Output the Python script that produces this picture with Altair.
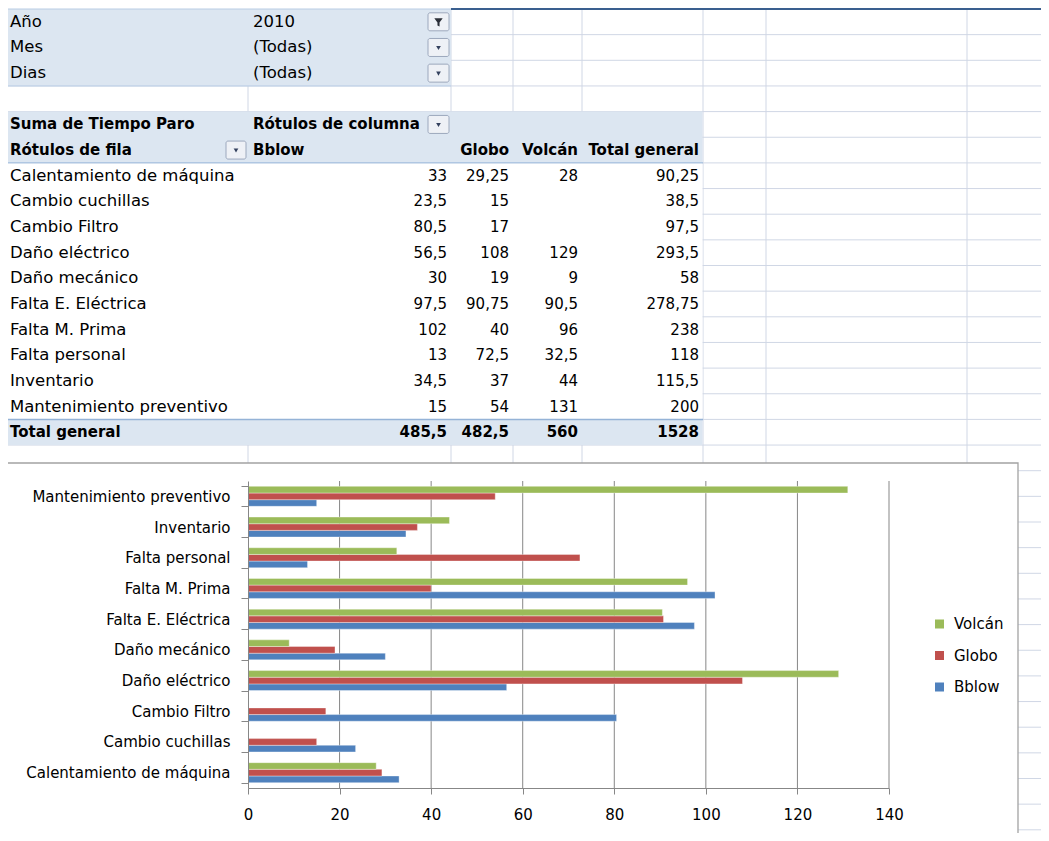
import altair as alt
import pandas as pd

# ---------------- data ----------------
CATEGORIES = ["Calentamiento de máquina", "Cambio cuchillas", "Cambio Filtro", "Daño eléctrico",
              "Daño mecánico", "Falta E. Eléctrica", "Falta M. Prima", "Falta personal",
              "Inventario", "Mantenimiento preventivo"]
BBLOW = [33, 23.5, 80.5, 56.5, 30, 97.5, 102, 13, 34.5, 15]
GLOBO = [29.25, 15, 17, 108, 19, 90.75, 40, 72.5, 37, 54]
VOLCAN = [28, None, None, 129, 9, 90.5, 96, 32.5, 44, 131]
SERIES = ["Bblow", "Globo", "Volcán"]
LEGEND_ORDER = ["Volcán", "Globo", "Bblow"]
SERIES_COLORS = ["#9bbb59", "#c0504d", "#4f81bd"]
FILTER_FIELDS = ["Año", "Mes", "Dias"]
FILTER_VALUES = ["2010", "(Todas)", "(Todas)"]
X_TICKS = [0, 20, 40, 60, 80, 100, 120, 140]

# ---------------- layout (page pixels) ----------------
FONT = "DejaVu Sans"
PLOT_L, PLOT_R, PLOT_T, PLOT_B = 248, 889, 481, 788
PW, PH = PLOT_R - PLOT_L, PLOT_B - PLOT_T
ROW0, ROW_H = 9.0, 25.65
COL_LINES = [248, 451, 513, 582, 703, 766, 967]
LEFT_A, LEFT_B = 10, 253
NUM_RIGHT = [447, 509, 578, 699]
GRID_C = "#d0d7e5"
BAND_C = "#dce6f1"


def row_top(k):
    return ROW0 + ROW_H * k


def row_mid(k):
    return ROW0 + ROW_H * (k + 0.5)


def fmt(v):
    if v is None:
        return ""
    return f"{v:g}".replace(".", ",")


def PX():
    return alt.Scale(domain=[PLOT_L, PLOT_R], range=[0, PW], zero=False, nice=False)


def PY():
    return alt.Scale(domain=[PLOT_T, PLOT_B], range=[0, PH], zero=False, nice=False)


def X(f):
    return alt.X(f, type="quantitative", scale=PX(), axis=None)


def Y(f):
    return alt.Y(f, type="quantitative", scale=PY(), axis=None)


# ---------------- spreadsheet decoration ----------------
grid = [dict(x=x, x2=x, y=row_top(0), y2=845) for x in COL_LINES]
grid += [dict(x=0, x2=1045, y=row_top(k), y2=row_top(k)) for k in range(1, 33)]
grid_layer = alt.Chart(pd.DataFrame(grid)).mark_rule(color=GRID_C, strokeWidth=1).encode(
    x=X("x"), x2="x2", y=Y("y"), y2="y2")

bands = [
    dict(x=0, x2=451, y=row_top(0), y2=row_top(3), f=BAND_C),
    dict(x=0, x2=702.5, y=row_top(4), y2=row_top(6), f=BAND_C),
    dict(x=0, x2=702.5, y=row_top(6), y2=row_top(16), f="#ffffff"),
    dict(x=0, x2=702.5, y=row_top(16), y2=row_top(17), f=BAND_C),
]
band_layer = alt.Chart(pd.DataFrame(bands)).mark_rect().encode(
    x=X("x"), x2="x2", y=Y("y"), y2="y2", fill=alt.Fill("f:N", scale=None))

borders = [
    dict(x=451, x2=1045, y=8.8, y2=8.8, c="#3a5f8f", w=2.5),
    dict(x=0, x2=451, y=9, y2=9, c="#b8cce4", w=1),
    dict(x=0, x2=451, y=row_top(3), y2=row_top(3), c="#b8cce4", w=1),
    dict(x=0, x2=703, y=row_top(6), y2=row_top(6), c="#95b3d7", w=1),
    dict(x=0, x2=703, y=row_top(16), y2=row_top(16), c="#95b3d7", w=1.5),
]
border_layer = alt.Chart(pd.DataFrame(borders)).mark_rule().encode(
    x=X("x"), x2="x2", y=Y("y"), y2="y2",
    stroke=alt.Stroke("c:N", scale=None), strokeWidth=alt.StrokeWidth("w:Q", scale=None))

btn = [dict(x=428, x2=449, k=k, kind="filter" if k == 0 else "drop") for k in (0, 1, 2, 4)]
btn += [dict(x=226, x2=246, k=5, kind="drop")]
for b in btn:
    b["y"] = row_mid(b["k"]) - 9
    b["y2"] = row_mid(b["k"]) + 9
    b["cx"] = (b["x"] + b["x2"]) / 2
    b["cy"] = row_mid(b["k"]) + 0.5
btn_df = pd.DataFrame(btn)
btn_layer = alt.Chart(btn_df).mark_rect(fill="#eef1f6", stroke="#9ca8bd", strokeWidth=1,
                                        cornerRadius=2).encode(x=X("x"), x2="x2", y=Y("y"), y2="y2")
tri_layer = alt.Chart(btn_df[btn_df.kind == "drop"]).mark_point(
    shape="triangle-down", filled=True, color="#33415e", size=22, opacity=1).encode(
    x=X("cx"), y=Y("cy"))
funnel_layer = alt.Chart(btn_df[btn_df.kind == "filter"]).mark_point(
    shape="M -1 -1 L 1 -1 L 0.25 0.05 L 0.25 1 L -0.25 0.75 L -0.25 0.05 Z",
    filled=True, color="#2b2f38", size=70, opacity=1).encode(
    x=alt.X("cx", type="quantitative", scale=PX(), axis=None), y=Y("cy"))

# ---------------- pivot table text ----------------
left_norm, left_bold, right_norm, right_bold = [], [], [], []
for i, (f, v) in enumerate(zip(FILTER_FIELDS, FILTER_VALUES)):
    left_norm.append(dict(x=LEFT_A, y=row_mid(i), t=f))
    left_norm.append(dict(x=LEFT_B, y=row_mid(i), t=v))
left_bold += [dict(x=LEFT_A, y=row_mid(4), t="Suma de Tiempo Paro"),
              dict(x=LEFT_B, y=row_mid(4), t="Rótulos de columna"),
              dict(x=LEFT_A, y=row_mid(5), t="Rótulos de fila"),
              dict(x=LEFT_B, y=row_mid(5), t=SERIES[0])]
right_bold += [dict(x=NUM_RIGHT[1], y=row_mid(5), t=SERIES[1]),
               dict(x=NUM_RIGHT[2], y=row_mid(5), t=SERIES[2]),
               dict(x=NUM_RIGHT[3], y=row_mid(5), t="Total general")]
cols = [BBLOW, GLOBO, VOLCAN]
for i, cat in enumerate(CATEGORIES):
    k = 6 + i
    left_norm.append(dict(x=LEFT_A, y=row_mid(k), t=cat))
    vals = [c[i] for c in cols]
    tot = sum(v for v in vals if v is not None)
    for j, v in enumerate(vals + [tot]):
        right_norm.append(dict(x=NUM_RIGHT[j], y=row_mid(k), t=fmt(v)))
left_bold.append(dict(x=LEFT_A, y=row_mid(16), t="Total general"))
col_tot = [sum(v for v in c if v is not None) for c in cols]
for j, v in enumerate(col_tot + [sum(col_tot)]):
    right_bold.append(dict(x=NUM_RIGHT[j], y=row_mid(16), t=fmt(v)))


def text_layer(rows, align, weight, size):
    return alt.Chart(pd.DataFrame(rows)).mark_text(
        align=align, baseline="middle", font=FONT, fontSize=size, fontWeight=weight,
        color="#000000").encode(x=X("x"), y=Y("y"), text="t:N")


txt_layers = [text_layer(left_norm, "left", "normal", 16.5),
              text_layer(right_norm, "right", "normal", 15),
              text_layer(left_bold, "left", "bold", 15),
              text_layer(right_bold, "right", "bold", 15)]

# ---------------- chart box ----------------
box = alt.Chart(pd.DataFrame([dict(x=4, x2=1018, y=463, y2=860)])).mark_rect(
    fill="#ffffff", stroke="#a3a3a3", strokeWidth=1.3).encode(x=X("x"), x2="x2", y=Y("y"), y2="y2")

# ---------------- bar chart ----------------
XS = alt.Scale(domain=[X_TICKS[0], X_TICKS[-1]], nice=False, zero=True)
gridbar = alt.Chart(pd.DataFrame({"v": X_TICKS[1:]})).mark_rule(
    color="#878787", strokeWidth=1).encode(x=alt.X("v:Q", scale=XS, axis=None))

long = []
for s, c in zip(SERIES, cols):
    for cat, v in zip(CATEGORIES, c):
        if v is not None:
            long.append(dict(cat=cat, serie=s, val=v))
bars = alt.Chart(pd.DataFrame(long)).mark_bar(
    stroke="#ffffff", strokeWidth=0.6, strokeOpacity=0.6).encode(
    x=alt.X("val:Q", scale=XS, axis=alt.Axis(
        values=X_TICKS, grid=False, domainColor="#878787", domainWidth=1, tickColor="#878787",
        tickSize=6, labelFont=FONT, labelFontSize=15, labelColor="#000000", labelPadding=13,
        labelFlush=False, labelOverlap=False, title=None, format="d", zindex=1)),
    y=alt.Y("cat:N", scale=alt.Scale(domain=list(reversed(CATEGORIES)), paddingInner=0.35,
                                     paddingOuter=0.175),
            axis=alt.Axis(title=None, domainColor="#878787", tickColor="#878787", tickSize=7,
                          tickBand="extent", tickExtra=True, labelFont=FONT, labelFontSize=15,
                          labelColor="#000000", labelPadding=11, labelLimit=400, zindex=1)),
    yOffset=alt.YOffset("serie:N", scale=alt.Scale(domain=LEGEND_ORDER, paddingInner=0,
                                                   paddingOuter=0)),
    color=alt.Color("serie:N", scale=alt.Scale(domain=LEGEND_ORDER, range=SERIES_COLORS),
                    legend=alt.Legend(title=None, orient="none", legendX=684, legendY=135.5,
                                      symbolType="square", symbolSize=81,
                                      symbolStrokeWidth=0, labelFont=FONT, labelFontSize=15,
                                      labelColor="#000000", labelOffset=7, rowPadding=15.5,
                                      padding=0)),
)

layers = [grid_layer, band_layer, border_layer, btn_layer, tri_layer, funnel_layer] + txt_layers + \
    [box, gridbar, bars]

chart = alt.layer(*layers).resolve_scale(
    x="independent", y="independent"
).properties(
    width=PW, height=PH,
    padding={"left": PLOT_L - 8, "top": PLOT_T - 8, "right": 1041 - PLOT_R, "bottom": 833 - PLOT_B},
    autosize=alt.AutoSizeParams(type="none"),
    background="#ffffff",
).configure_view(stroke=None)

chart.save("out.html", embed_options={"renderer": "svg", "actions": False})
